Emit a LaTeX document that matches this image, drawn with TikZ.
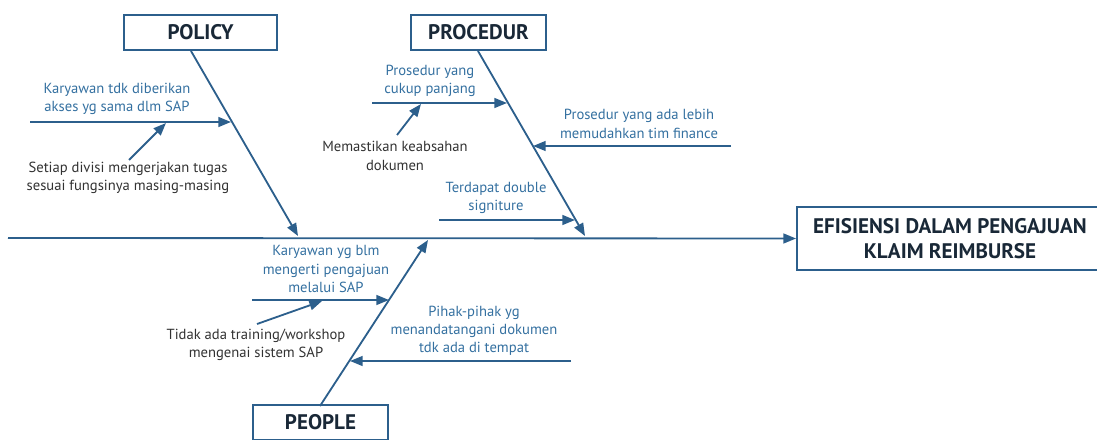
\documentclass[tikz,border=0pt]{standalone}
\usepackage{fontspec}
\setmainfont{PT Sans}
\usetikzlibrary{arrows.meta}
\usetikzlibrary{positioning}
\definecolor{fishline}{RGB}{44,95,140}
\definecolor{causeblue}{RGB}{52,112,160}
\definecolor{notegray}{RGB}{50,50,50}
\definecolor{titleink}{RGB}{25,40,55}

\begin{document}
\begin{tikzpicture}
[x=0.025cm,y=-0.025cm,>={Triangle[length=9pt,width=7pt]},
  category/.style={draw=fishline,line width=1.3pt,fill=white,inner sep=2pt,%
    font=\fontsize{15}{17.5}\selectfont\bfseries,text=titleink,minimum height=0.88cm},
  cause/.style={align=center,inner sep=0pt,text=causeblue,font=\fontsize{10.4}{13}\selectfont},
  subcause/.style={align=center,inner sep=0pt,text=notegray,font=\fontsize{10.4}{13}\selectfont},
  bone/.style={draw=fishline,line width=1.3pt,->}]
\useasboundingbox (0,0) rectangle (1097,440);
%% head and categories
\node[category,minimum width=7.65cm,minimum height=1.58cm,align=center] (effect) at (950,238.5)
  {EFISIENSI DALAM PENGAJUAN\\KLAIM REIMBURSE};
\node[category,minimum width=3.83cm] (policy) at (200.5,32.5) {POLICY};
\node[category,minimum width=3.38cm] (procedur) at (478.5,32.5) {PROCEDUR};
\node[category,minimum width=3.38cm] (people) at (320.5,422.5) {PEOPLE};
%% points on the spine and the bones
\coordinate (tail) at (8,238);
\coordinate (p0) at (191,51);   \coordinate (p1) at (298,236);
\coordinate (r0) at (478,51);   \coordinate (r1) at (585,236);
\coordinate (e0) at (320,406);  \coordinate (e1) at (428,240);
\coordinate (pa) at (231,122);  \coordinate (pa0) at (30,122);
\coordinate (pb0) at (129,160); \coordinate (pb) at (166,123);
\coordinate (ra) at (507,103);  \coordinate (ra0) at (372,103);
\coordinate (rb0) at (397,135); \coordinate (rb) at (421,104);
\coordinate (rc) at (533,146);  \coordinate (rc0) at (731,146);
\coordinate (rd) at (575,220);  \coordinate (rd0) at (439,220);
\coordinate (ea) at (389,300);  \coordinate (ea0) at (252,300);
\coordinate (eb0) at (257,324); \coordinate (eb) at (322,301);
\coordinate (ec) at (350,361);  \coordinate (ec0) at (571,361);
%% cause labels
\node[cause] (polA) at (117,99) {Karyawan tdk diberikan\\akses yg sama dlm SAP};
\node[subcause] (polB) at (128,178) {Setiap divisi mengerjakan tugas\\sesuai fungsinya masing-masing};
\node[cause] (proA) at (430,81) {Prosedur yang\\cukup panjang};
\node[subcause] (proB) at (395,156) {Memastikan keabsahan\\dokumen};
\node[cause] (proC) at (639,124) {Prosedur yang ada lebih\\memudahkan tim finance};
\node[cause] (proD) at (496,198) {Terdapat double\\signiture};
\node[cause] (peoA) at (326,269) {Karyawan yg blm\\mengerti pengajuan\\melalui SAP};
\node[subcause] (peoB) at (256,345) {Tidak ada training/workshop\\mengenai sistem SAP};
\node[cause] (peoC) at (474,331) {Pihak-pihak yg\\menandatangani dokumen\\tdk ada di tempat};
%% bones and arrows
\path
(tail) edge[bone] (effect.west)
(p0) edge[bone] (p1)
(r0) edge[bone] (r1)
(e0) edge[bone] (e1)
(pa0) edge[bone] (pa)
(pb0) edge[bone] (pb)
(ra0) edge[bone] (ra)
(rb0) edge[bone] (rb)
(rc0) edge[bone] (rc)
(rd0) edge[bone] (rd)
(ea0) edge[bone] (ea)
(eb0) edge[bone] (eb)
(ec0) edge[bone] (ec);
\end{tikzpicture}
\end{document}
